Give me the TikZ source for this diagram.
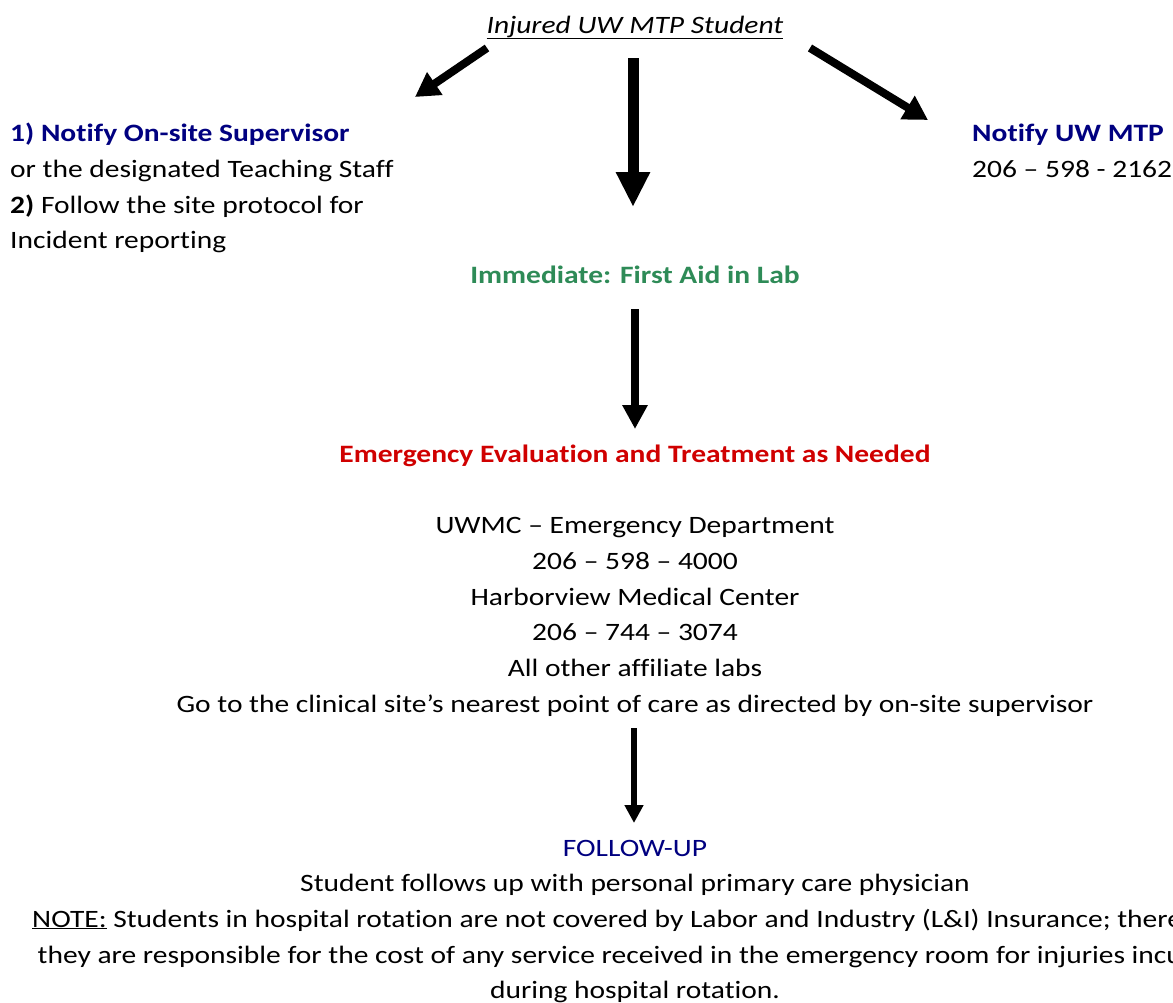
\documentclass[tikz,border=0pt]{standalone}
\usepackage{fontspec}
\setmainfont{Carlito}[FakeStretch=1.18, Ligatures=NoCommon]
\usetikzlibrary{arrows.meta}
\definecolor{navyblue}{RGB}{0,0,128}
\definecolor{leafgreen}{RGB}{46,139,87}
\definecolor{alertred}{RGB}{208,0,0}
\begin{document}
\begin{tikzpicture}[x=1pt,y=-1pt,
  txt/.style={inner sep=0pt, font=\fontsize{25}{30}\selectfont},
  ctxt/.style={txt, anchor=base},
  ltxt/.style={txt, anchor=base west},
  bigarrow/.style args={#1/#2/#3}{line width=#1, -{Triangle[length=#2pt,width=#3pt]}}
]
\useasboundingbox (0,0) rectangle (1173,1002);
\fill[white] (0,0) rectangle (1173,1002);

% title
\node[ctxt] (title) at (635,33) {\underline{\textit{Injured UW MTP Student}}};

% left block
\node[ltxt] (sup1) at (10,141) {\textcolor{navyblue}{\textbf{1) Notify On-site Supervisor}}};
\node[ltxt] (sup2) at (10,177) {or the designated Teaching Staff};
\node[ltxt] (sup3) at (10,213) {\textbf{2)} Follow the site protocol for};
\node[ltxt] (sup4) at (10,248) {Incident reporting};

% right block
\node[ltxt] (mtp1) at (972,141) {\textcolor{navyblue}{\textbf{Notify UW MTP}}};
\node[ltxt] (mtp2) at (972,177) {206 – 598 - 2162};

% first aid
\node[ctxt] (aid) at (635,283) {\textcolor{leafgreen}{\textbf{Immediate: First Aid in Lab}}};

% emergency
\node[ctxt] (emer) at (635,462) {\textcolor{alertred}{\textbf{Emergency Evaluation and Treatment as Needed}}};
\node[ctxt] (e1) at (635,533) {UWMC – Emergency Department};
\node[ctxt] (e2) at (635,569) {206 – 598 – 4000};
\node[ctxt] (e3) at (635,605) {Harborview Medical Center};
\node[ctxt] (e4) at (635,640) {206 – 744 – 3074};
\node[ctxt] (e5) at (635,676) {All other affiliate labs};
\node[ctxt] (e6) at (635,712) {Go to the clinical site’s nearest point of care as directed by on-site supervisor};

% follow-up
\node[ctxt] (f0) at (635,856) {\textcolor{navyblue}{FOLLOW-UP}};
\node[ctxt] (f1) at (635,891) {Student follows up with personal primary care physician};
\node[ctxt] (f2) at (635,927) {\underline{NOTE:} Students in hospital rotation are not covered by Labor and Industry (L\&I) Insurance; therefore,};
\node[ctxt] (f3) at (635,963) {they are responsible for the cost of any service received in the emergency room for injuries incurred};
\node[ctxt] (f4) at (635,998) {during hospital rotation.};

% arrow anchor points
\coordinate (l0) at (487,48);
\coordinate (l1) at (415,97);
\coordinate (r0) at (810,48);
\coordinate (r1) at (928,120);
\coordinate (c0) at (633,58);
\coordinate (c1) at (633,207);
\coordinate (d0) at (635,309);
\coordinate (d1) at (635,429);
\coordinate (g0) at (634,728);
\coordinate (g1) at (634,823);

\draw[bigarrow=8/24/26] (l0) -- (l1);
\draw[bigarrow=8/24/26] (r0) -- (r1);
\draw[bigarrow=11/35/32] (c0) -- (c1);
\draw[bigarrow=8.5/24/24] (d0) -- (d1);
\draw[bigarrow=6.5/18/18] (g0) -- (g1);
\end{tikzpicture}
\end{document}
